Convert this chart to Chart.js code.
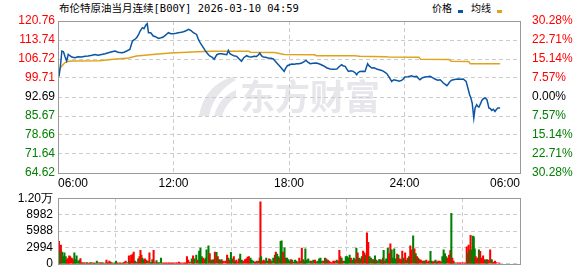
<!DOCTYPE html>
<html>
<head>
<meta charset="utf-8">
<script src="https://cdn.jsdelivr.net/npm/chart.js"></script>
<style>
  body { margin: 0; background: #fff; width: 578px; height: 276px; position: relative; overflow: hidden; }
  canvas { position: absolute; left: 0; }
  #main { top: 0; }
  #vol { top: 186px; }
  .title { position: absolute; left: 59px; top: 0; line-height: 16px; font-size: 10.5px; color: #000;
    font-family: "DejaVu Sans Mono", "Noto Sans CJK SC", monospace; white-space: nowrap; }
  .legend { position: absolute; left: 432px; top: 0; line-height: 16px; font-size: 10px; color: #000;
    font-family: "Noto Sans CJK SC", sans-serif; white-space: nowrap; }
  .legend i { display: inline-block; width: 5px; height: 3px; margin: 0 8px 0 6px; vertical-align: -1px; }
</style>
</head>
<body>
<div class="title">布伦特原油当月连续[B00Y] 2026-03-10 04:59</div>
<div class="legend">价格<i style="background:#0b55a3"></i>均线<i style="background:#e0a21c"></i></div>
<canvas id="main" width="578" height="190"></canvas>
<canvas id="vol" width="578" height="90"></canvas>
<script>
// price, minute data (time of day)
const priceTimes = ["06:03","06:08","06:12","06:17","06:22","06:27","06:32","06:37","06:43","06:53",
  "07:02","07:14","07:24","07:34","07:46","07:55","08:05","08:16","08:27","08:37","08:48","08:58",
  "09:07","09:19","09:26","09:34","09:44","09:52","09:58","10:05","10:11","10:16","10:23","10:28",
  "10:34","10:38","10:42","10:49","10:57","11:04","11:13","11:21","11:28","11:37","11:44","11:52",
  "12:00","12:08","12:15","12:24","12:31","12:39","12:47","12:55","13:02","13:12","13:18","13:23",
  "13:28","13:33","13:38","13:44","13:49","13:54","14:00","14:07","14:15","14:22","14:30","14:38",
  "14:46","14:51","14:56","15:01","15:08","15:17","15:24","15:32","15:39","15:48","15:55","16:03",
  "16:11","16:19","16:25","16:29","16:34","16:40","16:47","16:55","17:04","17:11","17:16","17:22",
  "17:27","17:32","17:38","17:45","17:49","17:55","18:02","18:09","18:16","18:24","18:31","18:40",
  "18:47","18:53","18:59","19:06","19:15","19:26","19:37","19:47","19:57","20:08","20:17","20:29",
  "20:36","20:44","20:48","20:55","21:05","21:13","21:20","21:26","21:31","21:35","21:41","21:51",
  "21:57","22:05","22:09","22:18","22:25","22:33","22:41","22:49","22:56","23:05","23:12","23:20",
  "23:27","23:36","23:43","23:51","23:57","00:01","00:11","00:22","00:29","00:38","00:43","00:48",
  "00:56","01:04","01:12","01:20","01:27","01:35","01:43","01:51","01:56","02:01","02:06","02:12",
  "02:17","02:22","02:27","02:32","02:40","02:48","02:56","03:03","03:12","03:19","03:23","03:27",
  "03:31","03:36","03:40","03:45","03:49","03:52","03:57","04:01","04:06","04:11","04:17","04:20",
  "04:23","04:28","04:32","04:37","04:42","04:47","04:51","04:58"];
const priceValues = [100.19,104.62,109.68,109.42,107.58,105.99,108.42,107.94,107.46,107.20,
  107.58,107.46,107.76,107.83,108.13,108.42,108.13,108.42,108.68,109.05,109.42,109.68,
  109.24,109.05,109.24,109.68,110.27,113.37,113.85,114.59,115.70,117.07,118.29,117.92,
  119.28,119.76,116.44,116.44,115.22,114.96,114.33,114.59,114.85,115.70,116.44,116.07,
  116.07,116.25,116.44,116.62,116.81,117.18,117.66,117.18,116.44,115.81,113.85,112.75,
  111.82,110.90,109.98,109.05,108.31,107.76,107.39,106.65,108.31,108.68,108.68,108.50,
  108.31,109.90,108.68,108.31,107.94,107.69,106.84,105.84,107.20,107.94,107.58,107.46,
  107.76,107.69,108.31,108.94,107.94,107.46,107.39,107.09,107.02,106.72,106.10,105.25,
  104.62,103.99,103.14,102.15,103.14,104.25,104.62,104.88,104.80,104.99,104.99,105.25,
  105.73,106.21,105.54,104.99,105.17,105.25,104.80,104.25,103.51,103.03,102.96,103.03,
  103.88,104.62,104.25,103.99,102.15,102.40,102.15,101.66,100.93,101.66,102.15,102.22,
  102.15,104.99,104.25,103.40,103.51,103.03,102.77,102.51,102.03,101.29,100.00,98.45,
  99.08,98.82,98.53,98.82,99.45,100.08,100.19,100.56,100.19,100.30,99.63,99.08,
  99.82,100.08,100.19,100.30,99.82,99.34,98.90,99.08,98.53,97.86,97.42,96.86,
  97.60,98.45,98.90,99.08,99.26,99.34,99.26,99.34,98.45,95.39,93.54,92.32,
  90.47,84.93,88.63,89.85,89.11,89.00,90.22,91.43,92.06,92.32,91.69,90.22,
  88.63,88.37,87.74,88.18,87.37,88.18,88.63,88.63];

const avgTimes = ["06:03","06:08","06:12","06:17","06:22","06:30","06:45","08:10","08:45","09:40",
  "10:05","10:55","11:50","13:15","14:00","15:55","16:00","17:15","17:45","19:20","19:25","21:25",
  "21:40","23:00","23:10","00:45","00:50","02:20","02:25","03:20","03:25","04:58"];
const avgValues = [102.0,103.5,104.1,104.8,105.4,105.8,106.0,106.1,106.5,107.1,
  107.8,108.4,108.9,109.4,109.6,109.55,109.2,109.15,108.35,108.3,107.95,107.9,
  107.7,107.6,107.45,107.4,106.6,106.5,105.85,105.8,105.0,105.0];

// volume: minutes after the 06:00 open, amount, 1 = up (red) / 0 = down (green)
const volMinute = [3,6,9,13,17,20,24,28,32,35,38,43,47,51,55,58,63,67,70,74,78,82,86,90,95,99,103,107,111,115,
  121,126,131,136,141,147,151,155,160,164,168,173,177,181,185,189,193,197,202,207,211,217,221,224,228,233,236,240,245,250,
  254,257,260,263,267,271,275,280,285,290,294,298,302,307,310,315,321,325,329,334,338,342,346,350,354,358,363,367,371,377,
  381,385,390,394,398,402,406,411,417,421,425,431,435,440,444,448,452,456,460,463,469,473,477,481,485,489,494,498,502,506,
  510,514,521,527,531,535,539,543,548,552,556,560,564,568,573,578,583,587,591,595,600,604,609,614,619,624,629,631,633,637,
  641,645,649,654,658,662,666,671,676,679,683,687,691,694,697,701,706,710,714,718,722,726,730,735,739,743,747,752,756,760,
  764,768,771,775,780,786,791,796,801,805,809,814,818,822,827,832,836,841,845,849,853,858,863,869,874,877,880,884,888,893,
  897,901,905,909,913,917,922,926,930,934,938,942,947,951,955,959,963,967,971,976,980,984,988,992,996,1001,1005,1009,1013,1015,
  1019,1023,1028,1032,1036,1040,1044,1048,1053,1057,1061,1065,1069,1073,1077,1082,1086,1090,1094,1098,1102,1107,1111,1115,1119,1123,1127,1131,1136,1140,
  1144,1148,1152,1156,1161,1165,1169,1173,1177,1181,1185,1190,1194,1198,1202,1206,1210,1215,1219,1223,1226,1229,1233,1237,1243,1248,1253,1258,1263,1269,
  1274,1277,1280,1283,1286,1289,1293,1296,1299,1302,1305,1308,1312,1316,1321,1325,1329,1333,1337,1341,1347,1352,1357,1362,1367,1375];
const volAmount = [4100,2160,3435,2160,1330,1995,1330,776,1053,1440,1330,1053,776,1995,776,1440,499,665,942,222,111,222,111,222,111,166,222,111,166,111,
  499,222,166,222,166,111,665,222,499,332,166,111,166,499,166,111,166,111,166,332,499,222,1440,499,1607,1773,2160,499,332,886,
  1330,2438,1607,1053,776,886,665,499,1995,222,776,2438,222,610,166,222,1053,111,166,111,166,111,166,111,166,111,166,111,166,332,
  111,166,111,166,166,1330,665,332,886,1440,886,1607,665,2327,2881,1330,1053,776,1053,2548,3269,1884,665,665,776,2160,2105,1330,776,665,
  776,499,499,1607,1053,665,2105,886,1330,499,665,332,886,1773,665,499,776,886,1219,1330,1053,665,499,332,499,499,1053,11302,1330,499,
  665,499,1053,499,886,776,499,1053,1607,2160,1773,1330,1053,4100,4210,2160,2936,1053,1053,776,499,776,665,332,665,499,332,1053,499,2881,
  776,499,2715,665,886,499,499,665,665,332,499,886,1053,499,499,1053,886,665,499,332,222,499,499,665,499,2438,1330,1053,499,499,
  1330,1330,1053,1607,1053,665,1053,776,2881,1995,1053,886,1330,2327,1995,1607,5651,3933,1330,1053,776,776,1440,665,499,776,776,665,1053,2438,
  499,886,2881,1884,3656,2548,1053,2715,886,1773,1607,886,776,2327,1053,1995,665,1053,1330,3269,2548,5097,2715,1884,1330,1053,776,665,499,499,
  499,665,332,499,2271,499,332,499,665,332,499,499,332,1330,2548,1884,1330,1053,1607,2438,9196,1053,499,166,166,166,166,166,166,166,
  3102,1884,3435,2438,5208,2548,5041,4931,2715,1330,886,1053,2548,2271,1053,1440,776,665,776,665,2548,776,332,499,222,166];
const volRise = [1,0,1,0,0,0,0,1,1,1,1,1,1,0,0,0,0,0,1,1,0,1,1,0,1,1,0,1,1,0,
  0,1,0,1,0,1,1,0,1,1,0,1,0,0,1,0,1,1,0,1,1,0,1,0,1,1,1,0,1,0,
  1,1,1,0,0,1,1,0,1,0,0,1,1,0,1,0,0,1,1,1,1,1,1,1,1,1,1,1,1,1,
  1,1,1,1,1,1,1,1,0,1,0,0,1,0,0,0,1,1,0,0,0,1,0,1,0,1,0,1,0,1,
  0,1,1,1,0,1,0,0,1,0,1,1,1,0,0,1,1,1,1,1,0,0,0,1,1,0,1,1,0,1,
  1,1,0,0,1,0,1,0,0,1,0,0,1,0,0,1,0,1,0,0,0,1,0,1,0,0,1,1,0,1,
  0,1,0,0,0,0,1,0,1,1,0,0,0,0,1,0,1,0,1,1,1,1,1,0,1,1,1,0,1,0,
  0,0,0,0,1,0,0,1,0,1,0,1,0,1,1,0,1,1,0,0,1,0,0,1,0,0,0,1,1,0,1,
  0,0,1,1,0,0,0,0,1,0,1,1,1,0,1,0,1,0,1,1,0,1,0,1,0,1,1,1,0,0,
  1,1,1,0,0,1,1,0,0,1,1,1,0,0,0,0,1,1,1,0,1,1,0,1,1,1,1,1,1,1,
  0,1,0,1,0,0,0,0,1,1,1,0,1,1,1,1,0,0,1,1,0,1,1,1,1,1];

// axes
const xTickMinutes = [0, 360, 720, 1080, 1440];
const xTickLabels = ["06:00", "12:00", "18:00", "24:00", "06:00"];
const priceTicks = [64.62, 71.64, 78.66, 85.67, 92.69, 99.71, 106.72, 113.74, 120.76];
const pctTicks = [-30.28, -22.71, -15.14, -7.57, 0, 7.57, 15.14, 22.71, 30.28];
const pctLabels = ["30.28%", "22.71%", "15.14%", "7.57%", "0.00%", "7.57%", "15.14%", "22.71%", "30.28%"];
const volTicks = [0, 2994, 5988, 8982, 11976];
const volLabels = ["0", "2994", "5988", "8982", "1.20万"];

const RED = "#ff0000";
const GREEN = "#008000";
const tickFont = { family: "'Liberation Sans', Arial, sans-serif", size: 12 };

function toMin(t) {
  const [h, m] = t.split(":").map(Number);
  return ((h - 6 + 24) % 24) * 60 + m;
}

function tickColor(ctx) {
  // below previous close green, above red
  if (ctx.index < 4) return GREEN;
  if (ctx.index > 4) return RED;
  return "#000";
}

const framePlugin = {
  id: "frame",
  afterDraw(chart) {
    const a = chart.chartArea;
    const c = chart.ctx;
    c.save();
    c.strokeStyle = "#999";
    c.lineWidth = 1;
    c.strokeRect(Math.round(a.left) + 0.5, Math.round(a.top) + 0.5,
      Math.round(a.right - a.left), Math.round(a.bottom - a.top));
    c.restore();
  }
};

const watermarkPlugin = {
  id: "watermark",
  beforeDraw(chart) {
    const c = chart.ctx;
    c.save();
    c.fillStyle = "#e6e6eb";
    c.beginPath();
    c.moveTo(199, 116);
    c.quadraticCurveTo(204, 86, 232, 77);
    c.lineTo(236, 80);
    c.quadraticCurveTo(214, 92, 209, 116);
    c.closePath();
    c.fill();
    c.beginPath();
    c.moveTo(214, 116);
    c.quadraticCurveTo(219, 97, 236, 90);
    c.lineTo(236, 97);
    c.quadraticCurveTo(226, 103, 222, 116);
    c.closePath();
    c.fill();
    c.font = "bold 35px 'Noto Sans CJK SC'";
    c.textBaseline = "middle";
    c.fillText("东方财富", 240, 97);
    c.restore();
  }
};

const dashGrid = { color: "#cccccc", drawTicks: false, lineWidth: 1 };

new Chart(document.getElementById("main"), {
  type: "line",
  data: {
    datasets: [
      {
        label: "价格",
        data: priceTimes.map((t, i) => ({ x: toMin(t), y: priceValues[i] })),
        borderColor: "#0b55a3",
        borderWidth: 1.5,
        pointRadius: 0,
        tension: 0,
      },
      {
        label: "均线",
        data: avgTimes.map((t, i) => ({ x: toMin(t), y: avgValues[i] })),
        borderColor: "#e0a21c",
        borderWidth: 1.5,
        pointRadius: 0,
        tension: 0,
      },
    ],
  },
  options: {
    responsive: false,
    animation: false,
    layout: { padding: { top: 21, left: 0, right: 0, bottom: 0 } },
    plugins: { legend: { display: false }, tooltip: { enabled: false } },
    scales: {
      x: {
        type: "linear",
        min: 0,
        max: 1440,
        afterBuildTicks: (s) => { s.ticks = xTickMinutes.map((v) => ({ value: v })); },
        afterFit: (s) => { s.height = 17; },
        ticks: {
          autoSkip: false,
          maxRotation: 0,
          align: "inner",
          padding: 3,
          font: tickFont,
          color: "#000",
          callback: (v, i) => xTickLabels[i],
        },
        grid: dashGrid,
        border: { display: false, dash: [4, 3] },
      },
      y: {
        position: "left",
        min: 64.62,
        max: 120.76,
        afterBuildTicks: (s) => { s.ticks = priceTicks.map((v) => ({ value: v })); },
        afterFit: (s) => { s.width = 58; },
        ticks: {
          padding: 3,
          font: tickFont,
          color: tickColor,
          callback: (v, i) => priceTicks[i].toFixed(2),
        },
        grid: dashGrid,
        border: { display: false, dash: [4, 3] },
      },
      y1: {
        position: "right",
        min: -30.28,
        max: 30.28,
        afterBuildTicks: (s) => { s.ticks = pctTicks.map((v) => ({ value: v })); },
        afterFit: (s) => { s.width = 58; },
        ticks: {
          padding: 4,
          font: tickFont,
          color: tickColor,
          callback: (v, i) => pctLabels[i],
        },
        grid: { display: false },
        border: { display: false },
      },
    },
  },
  plugins: [watermarkPlugin, framePlugin],
});

new Chart(document.getElementById("vol"), {
  type: "bar",
  data: {
    datasets: [
      {
        label: "成交量",
        data: volMinute.map((m, i) => ({ x: m, y: volAmount[i] })),
        backgroundColor: volRise.map((r) => (r ? RED : GREEN)),
        barThickness: 1.4,
      },
    ],
  },
  options: {
    responsive: false,
    animation: false,
    layout: { padding: { top: 10.5, left: 0, right: 58, bottom: 0 } },
    plugins: { legend: { display: false }, tooltip: { enabled: false } },
    scales: {
      x: {
        type: "linear",
        min: 0,
        max: 1440,
        offset: false,
        afterBuildTicks: (s) => { s.ticks = xTickMinutes.map((v) => ({ value: v })); },
        afterFit: (s) => { s.height = 7.5; },
        ticks: { display: false },
        grid: dashGrid,
        border: { display: false, dash: [4, 3] },
      },
      y: {
        position: "left",
        min: 0,
        max: 11976,
        afterBuildTicks: (s) => { s.ticks = volTicks.map((v) => ({ value: v })); },
        afterFit: (s) => { s.width = 58; },
        ticks: {
          padding: 5,
          font: tickFont,
          color: "#000",
          callback: (v, i) => volLabels[i],
        },
        grid: dashGrid,
        border: { display: false, dash: [4, 3] },
      },
    },
  },
  plugins: [framePlugin],
});
</script>
</body>
</html>
